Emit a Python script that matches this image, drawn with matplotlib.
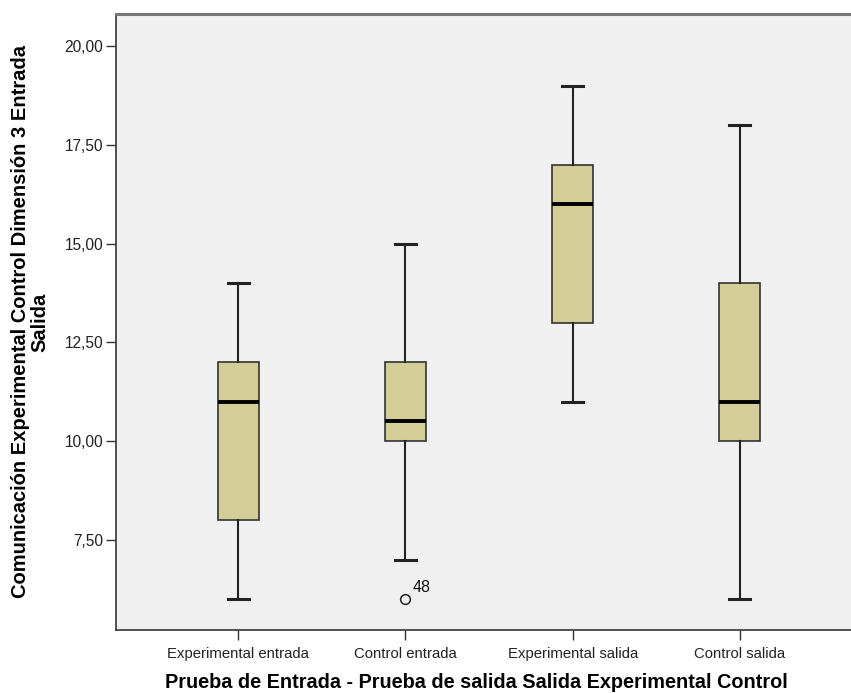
import matplotlib
matplotlib.use("Agg")
import matplotlib.pyplot as plt

categories = ["Experimental entrada", "Control entrada", "Experimental salida", "Control salida"]
whisker_low = [6, 7, 11, 6]
q1 = [8, 10, 13, 10]
median = [11, 10.5, 16, 11]
q3 = [12, 12, 17, 14]
whisker_high = [14, 15, 19, 18]
outliers = [[], [6], [], []]
outlier_labels = [[], ["48"], [], []]
yticks = [7.5, 10.0, 12.5, 15.0, 17.5, 20.0]

plt.rcParams['font.family'] = ['Liberation Sans', 'DejaVu Sans']

fig = plt.figure(figsize=(8.51, 6.93), dpi=100)
W, H = 851, 693
left, right, top, bottom = 116, 862, 14, 630
ax = fig.add_axes([left / W, 1 - bottom / H, (right - left) / W, (bottom - top) / H])
ax.set_facecolor("#F0F0F0")

stats = []
for i in range(len(categories)):
    stats.append(dict(med=median[i], q1=q1[i], q3=q3[i], whislo=whisker_low[i],
                      whishi=whisker_high[i], fliers=outliers[i], label=categories[i]))

positions = list(range(len(categories)))
ax.bxp(stats, positions=positions, widths=0.245, patch_artist=True, showfliers=True,
       capwidths=0.125,
       boxprops=dict(facecolor="#D3CE97", edgecolor="#333333", linewidth=1.2),
       whiskerprops=dict(color="#222222", linewidth=1.5),
       capprops=dict(color="#222222", linewidth=2.2),
       medianprops=dict(color="#000000", linewidth=2.8),
       flierprops=dict(marker="o", markerfacecolor="none", markeredgecolor="#222222",
                       markersize=7, markeredgewidth=1.1))

for i, (vals, labs) in enumerate(zip(outliers, outlier_labels)):
    for v, l in zip(vals, labs):
        ax.annotate(l, (positions[i], v), xytext=(5, 5), textcoords="offset points",
                    fontsize=11.5, color="#111111")

ax.set_xlim(-0.73, 3.73)
ax.set_ylim(5.22, 20.81)
ax.set_yticks(yticks)
ax.set_yticklabels([f"{v:.2f}".replace(".", ",") for v in yticks])
ax.set_xticks(positions)
ax.set_xticklabels(categories)
ax.tick_params(axis="both", direction="out", length=7, width=1, color="#333333",
               labelcolor="#222222")
ax.tick_params(axis="x", labelsize=10.7, pad=5)
ax.tick_params(axis="y", labelsize=11.2, pad=2)
for s in ax.spines.values():
    s.set_color("#444444")
    s.set_linewidth(1.3)
ax.spines["top"].set_color("#777777")
ax.spines["top"].set_linewidth(2.2)

ax.set_xlabel("Prueba de Entrada - Prueba de salida Salida Experimental Control",
              fontsize=14.3, fontweight="bold")
ax.xaxis.set_label_coords(476 / W, 1 - 682 / H, transform=fig.transFigure)
ax.xaxis.label.set_va("center")
ax.set_ylabel("Comunicación Experimental Control Dimensión 3 Entrada\nSalida",
              fontsize=14.5, fontweight="bold", linespacing=1.0)
ax.yaxis.set_label_coords(30 / W, 1 - 322 / H, transform=fig.transFigure)
ax.yaxis.label.set_va("center")

fig.savefig("out.png", dpi=100)
